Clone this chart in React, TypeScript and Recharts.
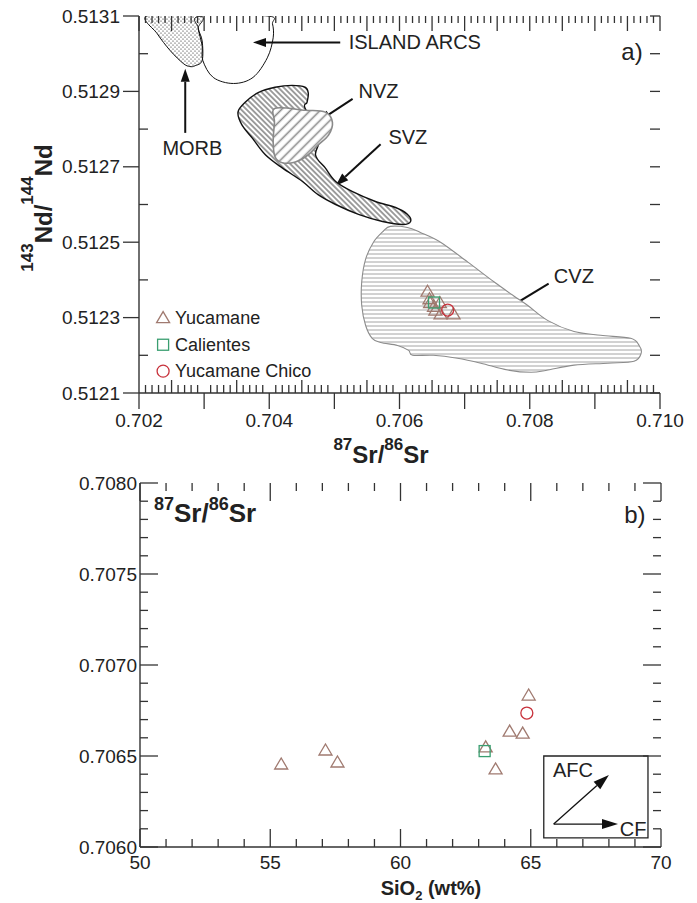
import React from 'react'
import { ScatterChart, Scatter, XAxis, YAxis, ReferenceLine, ReferenceDot, ReferenceArea } from 'recharts'

const FONT = '"Liberation Sans", Arial, Helvetica, sans-serif'
const INK = '#222'
const AXIS = '#333'
const TRI = '#a07a70'
const SQ = '#3a9e70'
const CIR = '#c8323c'

// ---------- panel a) 143Nd/144Nd vs 87Sr/86Sr ----------
const srDomainA = [0.702, 0.71]
const ndDomainA = [0.5121, 0.5131]
const srLabelsA = ['0.702', '0.704', '0.706', '0.708', '0.710']
const ndLabelsA = ['0.5121', '0.5123', '0.5125', '0.5127', '0.5129', '0.5131']

// field outlines as [Sr, Nd]
const morbField = [
  [0.70212, 0.5131], [0.70228, 0.513053], [0.70248, 0.513008], [0.70268, 0.512974], [0.70278, 0.512966],
  [0.70286, 0.512968], [0.70297, 0.512982], [0.70297, 0.513034], [0.70291, 0.513068], [0.70294, 0.5131],
]
const arcField = [
  [0.70294, 0.5131], [0.70291, 0.513068], [0.70297, 0.513021], [0.70298, 0.512982], [0.70314, 0.512937],
  [0.70345, 0.512921], [0.70375, 0.512937], [0.70397, 0.512989], [0.70406, 0.513042], [0.70405, 0.513079],
  [0.70398, 0.5131],
]
const nvzField = [
  [0.70409, 0.512855], [0.70455, 0.51285], [0.70486, 0.512845], [0.70497, 0.512818], [0.70491, 0.512784],
  [0.70475, 0.512758], [0.7046, 0.512732], [0.7044, 0.512713], [0.7042, 0.512711], [0.70409, 0.512726],
  [0.70406, 0.512766], [0.70408, 0.512818],
]
const svzField = [
  [0.70352, 0.512845], [0.70363, 0.512871], [0.70383, 0.512897], [0.70409, 0.512911], [0.70435, 0.512916],
  [0.70455, 0.512911], [0.7046, 0.512895], [0.70458, 0.512871], [0.70455, 0.512855], [0.70478, 0.512784],
  [0.70471, 0.512732], [0.70486, 0.512697], [0.70502, 0.512661], [0.70528, 0.512634], [0.70563, 0.512608],
  [0.70594, 0.512592], [0.70612, 0.512574], [0.70617, 0.512555], [0.70605, 0.512547], [0.70574, 0.512555],
  [0.70537, 0.512574], [0.70502, 0.5126], [0.70475, 0.512626], [0.70451, 0.512661], [0.7042, 0.512697],
  [0.70394, 0.512732], [0.70374, 0.512776], [0.70358, 0.512811],
]
const cvzField = [
  [0.70586, 0.512542], [0.70612, 0.512539], [0.70632, 0.512526], [0.70663, 0.5125], [0.70705, 0.512447],
  [0.70745, 0.512395], [0.70775, 0.512358], [0.70797, 0.512332], [0.70828, 0.512292], [0.70868, 0.512263],
  [0.70909, 0.512253], [0.70955, 0.512245], [0.70968, 0.512226], [0.70971, 0.512205], [0.7096, 0.512184],
  [0.7092, 0.512179], [0.70868, 0.512174], [0.70828, 0.512161], [0.70802, 0.512155], [0.70766, 0.512161],
  [0.70725, 0.512179], [0.70689, 0.512192], [0.70652, 0.5122], [0.7062, 0.5122], [0.70614, 0.512213],
  [0.70597, 0.512226], [0.70571, 0.512234], [0.70558, 0.512245], [0.70548, 0.512279], [0.70542, 0.512332],
  [0.70542, 0.512395], [0.70548, 0.512455], [0.7056, 0.5125], [0.70575, 0.512529],
]

// samples [Sr, Nd]
const yucamaneA = [
  [0.70643, 0.51237], [0.70646, 0.51235], [0.70647, 0.51234], [0.70653, 0.51233],
  [0.70655, 0.51232], [0.70662, 0.51234], [0.70663, 0.51231], [0.70683, 0.51231],
]
const calientesA = [[0.70653, 0.51234]]
const chicoA = [[0.70674, 0.51232]]

// labels with arrow [from] -> [to]
const notesA = [
  { text: 'ISLAND ARCS', at: [0.70522, 0.51303], anchor: 'start', from: [0.70509, 0.51303], to: [0.70375, 0.51303] },
  { text: 'MORB', at: [0.70282, 0.51275], anchor: 'middle', from: [0.70271, 0.51279], to: [0.70271, 0.51296] },
  { text: 'NVZ', at: [0.70537, 0.5129], anchor: 'start', from: [0.70528, 0.51288], to: [0.70475, 0.51282] },
  { text: 'SVZ', at: [0.70583, 0.51278], anchor: 'start', from: [0.70571, 0.51276], to: [0.70502, 0.51265] },
  { text: 'CVZ', at: [0.70837, 0.51241], anchor: 'start', from: [0.70829, 0.51239], to: [0.70743, 0.5123] },
]

// legend rows (marker position in panel a data units)
const legendA = [
  { name: 'Yucamane', kind: 'tri', color: TRI, at: [0.70237, 0.5123] },
  { name: 'Calientes', kind: 'sq', color: SQ, at: [0.70237, 0.512228] },
  { name: 'Yucamane Chico', kind: 'cir', color: CIR, at: [0.70237, 0.512158] },
]

// ---------- panel b) 87Sr/86Sr vs SiO2 ----------
const siDomainB = [50, 70]
const srDomainB = [0.706, 0.708]
const siLabelsB = ['50', '55', '60', '65', '70']
const srLabelsB = ['0.7060', '0.7065', '0.7070', '0.7075', '0.7080']

const yucamaneB = [
  [55.42, 0.706456], [57.12, 0.706533], [57.58, 0.706467], [64.92, 0.706835],
  [64.19, 0.706637], [64.69, 0.706626], [63.27, 0.70655], [63.65, 0.706429],
]
const calientesB = [[63.23, 0.706527]]
const chicoB = [[64.85, 0.706736]]

const notesB = [
  { text: 'AFC', at: [65.85, 0.706423], anchor: 'start', from: [65.88, 0.706126], to: [68.0, 0.706396] },
  { text: 'CF', at: [68.42, 0.706099], anchor: 'start', from: [65.88, 0.706126], to: [68.35, 0.706126] },
]
const trendBox = { x1: 65.5, x2: 69.5, y1: 0.70605, y2: 0.7065 }

// ---------- helpers ----------
const pts = (a: number[][]) => a.map(([x, y]) => ({ x, y }))
const between = (lo: number, hi: number, step: number) => {
  const n = Math.round((hi - lo) / step)
  const out: number[] = []
  for (let i = 0; i <= n; i++) out.push(+(lo + i * step).toFixed(6))
  return out
}

const closedSpline = (p: { x: number; y: number }[]) => {
  const n = p.length
  let d = `M${p[0].x},${p[0].y}`
  for (let i = 0; i < n; i++) {
    const p0 = p[(i - 1 + n) % n], p1 = p[i], p2 = p[(i + 1) % n], p3 = p[(i + 2) % n]
    const c1x = p1.x + (p2.x - p0.x) / 6, c1y = p1.y + (p2.y - p0.y) / 6
    const c2x = p2.x - (p3.x - p1.x) / 6, c2y = p2.y - (p3.y - p1.y) / 6
    d += ` C${c1x},${c1y} ${c2x},${c2y} ${p2.x},${p2.y}`
  }
  return d + ' Z'
}

const Patterns = () => (
  <defs>
    <pattern id="pDots" patternUnits="userSpaceOnUse" width={4} height={4}>
      <circle cx={1} cy={1} r={0.6} fill="#111" />
      <circle cx={3} cy={3} r={0.6} fill="#111" />
    </pattern>
    <pattern id="pSvz" patternUnits="userSpaceOnUse" width={3.8} height={3.8} patternTransform="rotate(-45)">
      <rect width={3.8} height={3.8} fill="#fff" />
      <line x1={1.9} y1={0} x2={1.9} y2={3.8} stroke="#111" strokeWidth={0.8} />
    </pattern>
    <pattern id="pNvz" patternUnits="userSpaceOnUse" width={7} height={7} patternTransform="rotate(45)">
      <rect width={7} height={7} fill="#fff" />
      <line x1={3.5} y1={0} x2={3.5} y2={7} stroke="#8a8a8a" strokeWidth={1.6} />
    </pattern>
    <pattern id="pCvz" patternUnits="userSpaceOnUse" width={4} height={4}>
      <rect width={4} height={4} fill="#fff" />
      <line x1={0} y1={2} x2={4} y2={2} stroke="#8c8c8c" strokeWidth={0.8} />
    </pattern>
  </defs>
)

const fieldOutline = (fill: string, stroke: string, width: number, withDefs = false) => (p: any) => (
  <g>
    {withDefs && <Patterns />}
    <path d={closedSpline(p.points)} fill={fill} stroke={stroke} strokeWidth={width} strokeLinejoin="round" />
  </g>
)
const noDot = () => <g />

const Marker = ({ kind, cx, cy, color }: { kind: string; cx: number; cy: number; color: string }) => {
  if (kind === 'tri')
    return <polygon points={`${cx - 6.5},${cy + 5} ${cx + 6.5},${cy + 5} ${cx},${cy - 6}`} fill="none" stroke={color} strokeWidth={1.3} />
  if (kind === 'sq')
    return <rect x={cx - 5.5} y={cy - 5.5} width={11} height={11} fill="none" stroke={color} strokeWidth={1.3} />
  return <circle cx={cx} cy={cy} r={6} fill="none" stroke={color} strokeWidth={1.3} />
}
const pointShape = (kind: string, color: string) => (p: any) => <Marker kind={kind} cx={p.cx} cy={p.cy} color={color} />

const legendShape = (name: string, kind: string, color: string) => (p: any) => (
  <g>
    <Marker kind={kind} cx={p.cx} cy={p.cy} color={color} />
    <text x={p.cx + 12} y={p.cy} dy="0.35em" fontSize={18} fill={INK} fontFamily={FONT}>{name}</text>
  </g>
)

const arrowShape = (head: number, half: number, width: number) => (p: any) => {
  const { x1, y1, x2, y2 } = p
  const a = Math.atan2(y2 - y1, x2 - x1)
  const bx = x2 - head * Math.cos(a), by = y2 - head * Math.sin(a)
  const nx = -Math.sin(a) * half, ny = Math.cos(a) * half
  return (
    <g>
      <line x1={x1} y1={y1} x2={bx} y2={by} stroke="#111" strokeWidth={width} />
      <polygon points={`${x2},${y2} ${bx + nx},${by + ny} ${bx - nx},${by - ny}`} fill="#111" />
    </g>
  )
}
const textShape = (text: string, anchor: string, size: number) => (p: any) => (
  <text x={p.cx} y={p.cy} dy="0.35em" textAnchor={anchor} fontSize={size} fill={INK} fontFamily={FONT}>
    {text}
  </text>
)

// tick drawing. len > 0 points into the plot, len < 0 points outward.
// The bottom / left ticks also draw the mirrored marks on the opposite frame side
// (plot height / width away), because the top and right axes only carry the frame line.
type Rule = (v: number) => { len: number; opp: number; label?: string }
const xTick = (rule: Rule, gap: number, plotH: number) => (props: any) => {
  const { x, y, payload } = props
  const { len, opp, label } = rule(payload.value)
  const s = { stroke: AXIS, strokeWidth: 1.3 }
  return (
    <g>
      <line x1={x} y1={y} x2={x} y2={y - len} {...s} />
      <line x1={x} y1={y - plotH} x2={x} y2={y - plotH + opp} {...s} />
      {label && (
        <text x={x} y={y + gap} dy="0.71em" textAnchor="middle" fontSize={19} fill={INK} fontFamily={FONT}>{label}</text>
      )}
    </g>
  )
}
const yTick = (rule: Rule, gap: number, plotW: number) => (props: any) => {
  const { x, y, payload } = props
  const { len, opp, label } = rule(payload.value)
  const s = { stroke: AXIS, strokeWidth: 1.3 }
  return (
    <g>
      <line x1={x} y1={y} x2={x + len} y2={y} {...s} />
      <line x1={x + plotW} y1={y} x2={x + plotW - opp} y2={y} {...s} />
      {label && (
        <text x={x - gap} y={y} dy="0.35em" textAnchor="end" fontSize={19} fill={INK} fontFamily={FONT}>{label}</text>
      )}
    </g>
  )
}

const srRuleA: Rule = (v) => {
  const i = Math.round((v - 0.702) / 0.0001)
  const opp = i % 5 === 0 ? 15 : 7
  if (i % 10 === 0) {
    const s = v.toFixed(3)
    return { len: -16, opp, label: srLabelsA.includes(s) ? s : undefined }
  }
  return { len: i % 5 === 0 ? 13 : 8, opp }
}
const ndRuleA: Rule = (v) => {
  const s = v.toFixed(4)
  if (ndLabelsA.includes(s)) return { len: -16, opp: 10, label: s }
  return { len: 9, opp: 10 }
}
const siRuleB: Rule = (v) => {
  const s = String(Math.round(v))
  if (siLabelsB.includes(s)) return { len: 18, opp: 18, label: s }
  return { len: 8, opp: 8 }
}
const srRuleB: Rule = (v) => {
  const s = v.toFixed(4)
  if (srLabelsB.includes(s)) return { len: 18, opp: 18, label: s }
  return { len: 8, opp: 8 }
}

const lineStyle = { stroke: AXIS, strokeWidth: 1.4 }

const NdTitle = () => (
  <text transform="translate(52,208) rotate(-90)" textAnchor="middle" fontFamily={FONT} fontWeight="bold" fontSize={24} fill={INK}>
    <tspan fontSize={17} dy={-19}>143</tspan>
    <tspan dy={19}>Nd/</tspan>
    <tspan fontSize={17} dy={-19}>144</tspan>
    <tspan dy={19}>Nd</tspan>
  </text>
)
const SrTitleA = () => (
  <text x={381} y={463} textAnchor="middle" fontFamily={FONT} fontWeight="bold" fontSize={24} fill={INK}>
    <tspan fontSize={17} dy={-13}>87</tspan>
    <tspan dy={13}>Sr/</tspan>
    <tspan fontSize={17} dy={-13}>86</tspan>
    <tspan dy={13}>Sr</tspan>
  </text>
)
const SrTitleB = () => (
  <text x={154} y={52} textAnchor="start" fontFamily={FONT} fontWeight="bold" fontSize={26} fill={INK}>
    <tspan fontSize={18} dy={-12}>87</tspan>
    <tspan dy={12}>Sr/</tspan>
    <tspan fontSize={18} dy={-12}>86</tspan>
    <tspan dy={12}>Sr</tspan>
  </text>
)
const SiTitle = () => (
  <text x={431} y={425} textAnchor="middle" fontFamily={FONT} fontWeight="bold" fontSize={20} fill={INK}>
    SiO<tspan fontSize={13} dy={5}>2</tspan>
    <tspan dy={-5}> (wt%)</tspan>
  </text>
)

// chart boxes: width, height, margins; plot = 521 wide in both panels
const boxA = { w: 697, h: 470, top: 16, right: 37, bottom: 47, left: 79 }
const boxB = { w: 697, h: 433, top: 13, right: 36, bottom: 26, left: 80 }
const plotW = 521

function PanelA() {
  const srTicks = between(0.702, 0.71, 0.0001)
  const ndTicks = between(0.5121, 0.5131, 0.0001)
  const plotH = boxA.h - boxA.top - boxA.bottom - 30
  return (
    <ScatterChart width={boxA.w} height={boxA.h} margin={{ top: boxA.top, right: boxA.right, bottom: boxA.bottom, left: boxA.left }}>
      <XAxis type="number" dataKey="x" domain={srDomainA} allowDataOverflow ticks={srTicks} interval={0}
        tickSize={0} tickMargin={0} tickLine={false} tick={xTick(srRuleA, 21, plotH)} axisLine={lineStyle}
        label={<SrTitleA />} />
      <XAxis xAxisId="top" orientation="top" type="number" domain={srDomainA} allowDataOverflow
        height={0} tickLine={false} tick={false} axisLine={lineStyle} />
      <YAxis type="number" dataKey="y" domain={ndDomainA} allowDataOverflow ticks={ndTicks} interval={0} width={60}
        tickSize={0} tickMargin={0} tickLine={false} tick={yTick(ndRuleA, 19, plotW)} axisLine={lineStyle}
        label={<NdTitle />} />
      <YAxis yAxisId="right" orientation="right" type="number" domain={ndDomainA} allowDataOverflow
        width={0} tickLine={false} tick={false} axisLine={lineStyle} />

      <Scatter data={pts(cvzField)} line={fieldOutline('url(#pCvz)', '#8c8c8c', 1.1, true)} shape={noDot} legendType="none" isAnimationActive={false} />
      <Scatter data={pts(svzField)} line={fieldOutline('url(#pSvz)', '#111', 1.4)} shape={noDot} legendType="none" isAnimationActive={false} />
      <Scatter data={pts(nvzField)} line={fieldOutline('url(#pNvz)', '#8a8a8a', 1.6)} shape={noDot} legendType="none" isAnimationActive={false} />
      <Scatter data={pts(morbField)} line={fieldOutline('url(#pDots)', '#111', 1)} shape={noDot} legendType="none" isAnimationActive={false} />
      <Scatter data={pts(arcField)} line={fieldOutline('none', '#111', 1)} shape={noDot} legendType="none" isAnimationActive={false} />

      {notesA.map((n) => (
        <ReferenceLine key={'l' + n.text} segment={[{ x: n.from[0], y: n.from[1] }, { x: n.to[0], y: n.to[1] }]}
          ifOverflow="visible" shape={arrowShape(13, 4.5, 2)} />
      ))}
      {notesA.map((n) => (
        <ReferenceDot key={'t' + n.text} x={n.at[0]} y={n.at[1]} r={0} ifOverflow="visible" shape={textShape(n.text, n.anchor, 20)} />
      ))}
      <ReferenceDot x={0.70957} y={0.513005} r={0} ifOverflow="visible" shape={textShape('a)', 'middle', 24)} />

      <Scatter name="Yucamane" data={pts(yucamaneA)} shape={pointShape('tri', TRI)} isAnimationActive={false} />
      <Scatter name="Calientes" data={pts(calientesA)} shape={pointShape('sq', SQ)} isAnimationActive={false} />
      <Scatter name="Yucamane Chico" data={pts(chicoA)} shape={pointShape('cir', CIR)} isAnimationActive={false} />

      {legendA.map((l) => (
        <ReferenceDot key={'g' + l.name} x={l.at[0]} y={l.at[1]} r={0} ifOverflow="visible" shape={legendShape(l.name, l.kind, l.color)} />
      ))}
    </ScatterChart>
  )
}

function PanelB() {
  const siTicks = between(50, 70, 1)
  const srTicks = between(0.706, 0.708, 0.0001)
  const plotH = boxB.h - boxB.top - boxB.bottom - 30
  return (
    <ScatterChart width={boxB.w} height={boxB.h} margin={{ top: boxB.top, right: boxB.right, bottom: boxB.bottom, left: boxB.left }}>
      <XAxis type="number" dataKey="x" domain={siDomainB} allowDataOverflow ticks={siTicks} interval={0}
        tickSize={0} tickMargin={0} tickLine={false} tick={xTick(siRuleB, 9, plotH)} axisLine={lineStyle}
        label={<SiTitle />} />
      <XAxis xAxisId="top" orientation="top" type="number" domain={siDomainB} allowDataOverflow
        height={0} tickLine={false} tick={false} axisLine={lineStyle} />
      <YAxis type="number" dataKey="y" domain={srDomainB} allowDataOverflow ticks={srTicks} interval={0} width={60}
        tickSize={0} tickMargin={0} tickLine={false} tick={yTick(srRuleB, 3, plotW)} axisLine={lineStyle}
        label={<SrTitleB />} />
      <YAxis yAxisId="right" orientation="right" type="number" domain={srDomainB} allowDataOverflow
        width={0} tickLine={false} tick={false} axisLine={lineStyle} />

      <ReferenceArea x1={trendBox.x1} x2={trendBox.x2} y1={trendBox.y1} y2={trendBox.y2} fill="#fff" fillOpacity={1}
        stroke="#222" strokeWidth={1.3} ifOverflow="visible" />
      {notesB.map((n) => (
        <ReferenceLine key={'l' + n.text} segment={[{ x: n.from[0], y: n.from[1] }, { x: n.to[0], y: n.to[1] }]}
          ifOverflow="visible" shape={arrowShape(16, 5, 1.3)} />
      ))}
      {notesB.map((n) => (
        <ReferenceDot key={'t' + n.text} x={n.at[0]} y={n.at[1]} r={0} ifOverflow="visible" shape={textShape(n.text, n.anchor, 20)} />
      ))}
      <ReferenceDot x={69.0} y={0.707824} r={0} ifOverflow="visible" shape={textShape('b)', 'middle', 24)} />

      <Scatter name="Yucamane" data={pts(yucamaneB)} shape={pointShape('tri', TRI)} isAnimationActive={false} />
      <Scatter name="Calientes" data={pts(calientesB)} shape={pointShape('sq', SQ)} isAnimationActive={false} />
      <Scatter name="Yucamane Chico" data={pts(chicoB)} shape={pointShape('cir', CIR)} isAnimationActive={false} />
    </ScatterChart>
  )
}

export default function App() {
  return (
    <div style={{ position: 'absolute', left: 0, top: 0, width: 697, height: 903, background: '#fff', fontFamily: FONT }}>
      <div style={{ position: 'absolute', left: 0, top: 0 }}>
        <PanelA />
      </div>
      <div style={{ position: 'absolute', left: 0, top: 470 }}>
        <PanelB />
      </div>
    </div>
  )
}
